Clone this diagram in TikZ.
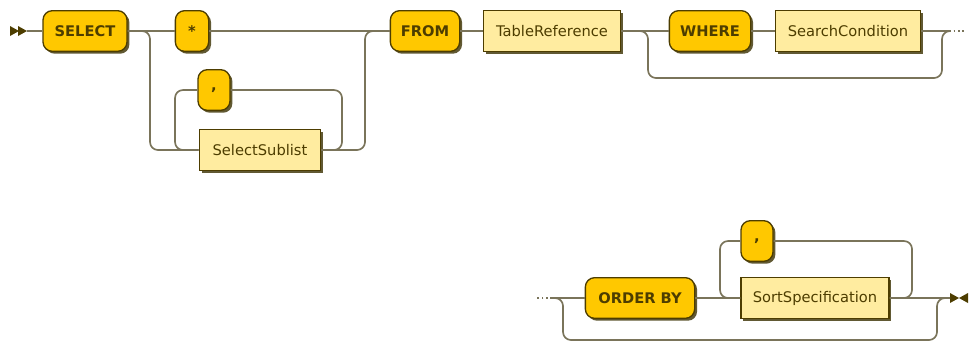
\documentclass[tikz,border=0pt]{standalone}
\usepackage{fontspec}
\setmainfont{DejaVu Sans}
\usepackage{xcolor}
\usetikzlibrary{shadows}
\definecolor{kwfill}{HTML}{FFC800}
\definecolor{ntfill}{HTML}{FFECA0}
\definecolor{edge}{HTML}{4D3D00}
\definecolor{rail}{HTML}{7A745A}
\definecolor{shade}{HTML}{3A3000}
\tikzset{
  box/.style={draw=edge, line width=1pt, text=edge, minimum height=30.5pt,
    inner sep=0pt, font=\fontsize{11}{13}\selectfont,
    drop shadow={shadow xshift=1.8pt, shadow yshift=-1.8pt, fill=shade, opacity=0.8}},
  keyword/.style={box, fill=kwfill, rounded corners=7pt, font=\fontsize{11}{13}\selectfont\bfseries},
  nonterm/.style={box, fill=ntfill},
  rail/.style={draw=rail, line width=1.25pt, rounded corners=6pt},
  railtip/.style={fill=edge, draw=none},
}
\begin{document}
\begin{tikzpicture}[x=0.75pt, y=-0.75pt]
        \useasboundingbox (0,0) rectangle (969,344);
        % Top row
        \node[keyword, minimum width=63pt]  (select) at (85,31)  {SELECT};
        \node[keyword, minimum width=25pt]  (star)   at (192,31) {*};
        \node[keyword, minimum width=24pt]  (comA)   at (214,90) {,};
        \node[nonterm, minimum width=91pt]  (sublist) at (260,150) {SelectSublist};
        \node[keyword, minimum width=52pt]  (from)   at (425,31) {FROM};
        \node[nonterm, minimum width=103pt] (tref)   at (552,31) {TableReference};
        \node[keyword, minimum width=61pt]  (where)  at (710,31) {WHERE};
        \node[nonterm, minimum width=109pt] (scond)  at (848,31) {SearchCondition};
        % Bottom row
        \node[keyword, minimum width=82pt]  (orderby) at (640,298) {ORDER BY};
        \node[keyword, minimum width=24pt]  (comB)   at (757,241) {,};
        \node[nonterm, minimum width=111pt] (sortspec) at (815,298) {SortSpecification};

        % Rail points
        \coordinate (begin) at (27,31);
        \coordinate (contA) at (945,31);
        \coordinate (contB) at (552,298);
        \coordinate (finish) at (950,298);

        % Start and end marks
        \path[railtip] (10,26) -- (19,31) -- (10,36) -- cycle (18,26) -- (27,31) -- (18,36) -- cycle;
        \path[railtip] (950,293) -- (959,298) -- (950,303) -- cycle (968,293) -- (959,298) -- (968,303) -- cycle;

        % Main line, top
        \draw[rail] (begin) -- (select.west);
        \draw[rail] (select.east) -- (star.west);
        \draw[rail] (star.east) -- (from.west);
        \draw[rail] (select.east) -- (150,31) -- (150,150) -- (sublist.west);
        \draw[rail] (sublist.east) -- (365,150) -- (365,31) -- (from.west);
        % Repeat loop round SelectSublist
        \draw[rail] (sublist.east) -- (342,150) -- (342,90) -- (comA.east);
        \draw[rail] (comA.west) -- (175,90) -- (175,150) -- (sublist.west);
        \draw[rail] (from.east) -- (tref.west);
        \draw[rail] (tref.east) -- (where.west);
        \draw[rail] (where.east) -- (scond.west);
        \draw[rail] (scond.east) -- (contA);
        % Optional WHERE
        \draw[rail] (tref.east) -- (648,31) -- (648,78) -- (942,78) -- (942,31) -- (contA);
        \draw[rail, dotted, line width=1pt] (contA) -- ++(20,0);

        % Main line, bottom
        \draw[rail, dotted, line width=1pt] (contB) -- ++(-17,0);
        \draw[rail] (contB) -- (orderby.west);
        \draw[rail] (orderby.east) -- (sortspec.west);
        \draw[rail] (sortspec.east) -- (finish);
        % Optional ORDER BY
        \draw[rail] (contB) -- (563,298) -- (563,340) -- (937,340) -- (937,298) -- (finish);
        % Repeat loop round SortSpecification
        \draw[rail] (sortspec.east) -- (912,298) -- (912,241) -- (comB.east);
        \draw[rail] (comB.west) -- (720,241) -- (720,298) -- (sortspec.west);
      \end{tikzpicture}
\end{document}
